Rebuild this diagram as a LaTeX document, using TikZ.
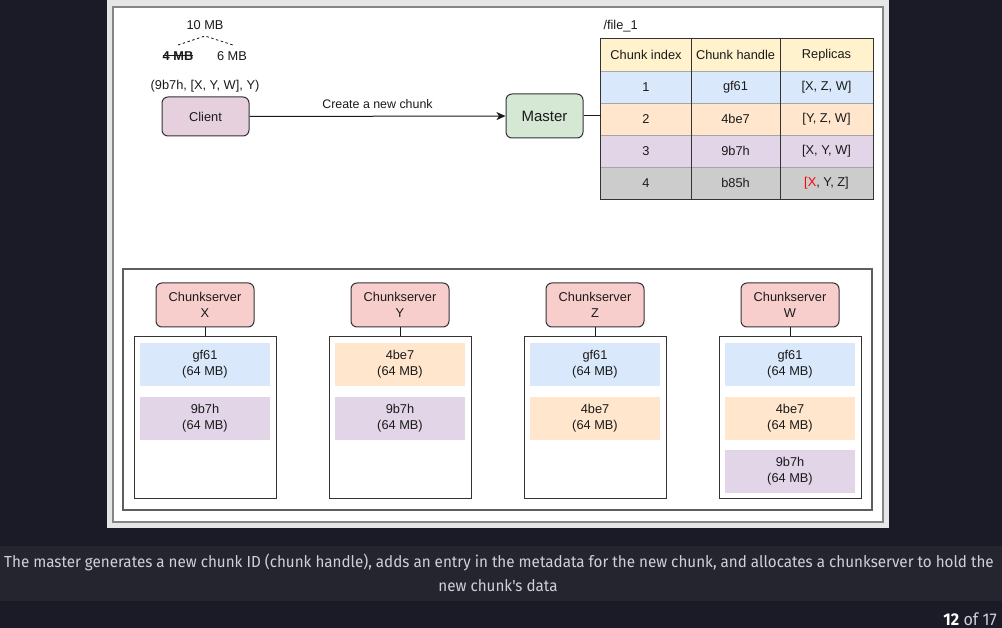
\documentclass[tikz,border=0pt]{standalone}
\usepackage{fontspec}
\setmainfont{Liberation Sans}
\newfontfamily\capfont[FakeStretch=0.95]{Fira Sans}
\usetikzlibrary{arrows.meta}
\definecolor{pagebg}{HTML}{1A1B26}
\definecolor{bandbg}{HTML}{24252F}
\definecolor{capfg}{HTML}{CFD0D8}
\definecolor{imgpad}{HTML}{E6E6E6}
\definecolor{framegray}{HTML}{858585}
\definecolor{contgray}{HTML}{5E5E5E}
\definecolor{ink}{HTML}{1A1A1A}
\definecolor{linec}{HTML}{333333}
\definecolor{cyellow}{HTML}{FFF2CC}
\definecolor{cblue}{HTML}{DAE8FC}
\definecolor{corange}{HTML}{FFE6CC}
\definecolor{cpurple}{HTML}{E1D5E7}
\definecolor{cgray}{HTML}{CCCCCC}
\definecolor{cclient}{HTML}{E6D0DE}
\definecolor{cmaster}{HTML}{D5E8D4}
\definecolor{cserver}{HTML}{F8CECC}
\definecolor{xred}{HTML}{FF0000}
\newcommand\blk[2]{\raisebox{-2.5pt}{\begin{tabular}{@{}c@{}}#1\\#2\end{tabular}}}
\tikzset{
  dfont/.style={font=\fontsize{12.8}{16}\selectfont, text=ink},
  rbox/.style={dfont, draw=linec, line width=1pt, rounded corners=6pt, align=center, inner sep=0pt},
  cell/.style={dfont, inner sep=0pt, minimum height=32pt},
  serverbox/.style={rbox, fill=cserver, minimum width=98pt, minimum height=44pt},
  storebox/.style={draw=linec, line width=1pt, minimum width=142pt, minimum height=161pt, inner sep=0pt},
  blockbox/.style={dfont, align=center, minimum width=130pt, minimum height=43pt, inner sep=0pt},
  conn/.style={draw=ink, line width=1pt},
  captext/.style={font=\capfont\fontsize{16}{19}\selectfont, text=capfg, inner sep=0pt}
}
\begin{document}
\begin{tikzpicture}[x=1pt,y=-1pt]
\useasboundingbox (0,0) rectangle (1002,628);
\fill[pagebg] (0,0) rectangle (1002,628);
\fill[bandbg] (0,546) rectangle (1002,601);
% diagram image
\fill[imgpad] (107,0) rectangle (889,528);
\filldraw[fill=white, draw=framegray, line width=1.2pt] (113,7) rectangle (883,522);
% top part
\node[dfont] (ten) at (205,25) {10 MB};
\node[dfont, font=\fontsize{12.8}{16}\selectfont\bfseries, inner sep=0pt] (four) at (178,56) {4 MB};
\draw[ink, line width=1pt] (four.west) -- (four.east);
\node[dfont] (six) at (232,56) {6 MB};
\coordinate (d1) at (178,45);
\coordinate (d2) at (205,36);
\coordinate (d3) at (233,45);
\draw[ink, line width=0.8pt, dash pattern=on 2.5pt off 2.5pt] (d1) -- (d2) -- (d3);
\node[dfont] (tuple) at (205,86) {(9b7h, [X, Y, W], Y)};
\node[rbox, fill=cclient, minimum width=87pt, minimum height=39pt] (client) at (205.5,116.5) {Client};
\node[rbox, fill=cmaster, minimum width=77pt, minimum height=44pt, font=\fontsize{15}{18}\selectfont] (master) at (544.5,116) {Master};
\draw[conn, -{Stealth[length=9pt, width=8pt, inset=2.5pt]}] (client) -- (master)
  node[midway, above=4pt, dfont, font=\fontsize{12.4}{15}\selectfont] (lbl) {Create a new chunk};
% table
\node[dfont, anchor=west] (fname) at (600,26) {/file\_1};
\foreach \r/\cy/\col/\a/\b/\c in {1/55/cyellow/Chunk index/Chunk handle/Replicas,
  2/87/cblue/1/gf61/{[X, Z, W]},
  3/119/corange/2/4be7/{[Y, Z, W]},
  4/151/cpurple/3/9b7h/{[X, Y, W]},
  5/183/cgray/4/b85h/{\textcolor{xred}{[}\textcolor{xred}{X}, Y, Z]}}{
  \node[cell, fill=\col, minimum width=90pt] (c\r a) at (646,\cy) {\raisebox{-1pt}{\a}};
  \node[cell, fill=\col, minimum width=89pt] (c\r b) at (735.5,\cy) {\raisebox{-1pt}{\b}};
  \node[cell, fill=\col, minimum width=93pt] (c\r c) at (826.5,\cy) {\raisebox{-1pt}{\c}};
}
\foreach \r in {2,3,4,5}{
  \draw[gray!70, line width=0.5pt] (c\r a.north west) -- (c\r c.north east);
}
\draw[linec, line width=1.2pt] (c1a.north east) -- (c5a.south east);
\draw[linec, line width=1.2pt] (c1b.north east) -- (c5b.south east);
\draw[linec, line width=1.2pt] (c1a.north west) rectangle (c5c.south east);
\draw[conn] (master.east) -- (master.east -| c3a.west);
% chunkservers container
\draw[contgray, line width=1.3pt] (123,269) rectangle (872,510);
\foreach \n/\x in {X/205, Y/400, Z/595, W/790}{
  \node[serverbox] (s\n) at (\x,305) {Chunkserver\\\n};
  \node[storebox] (st\n) at (\x,417.5) {};
  \draw[conn] (s\n.south) -- (st\n.north);
}
\node[blockbox, fill=cblue]   (bX1) at (205,364.5) {\blk{gf61}{(64 MB)}};
\node[blockbox, fill=cpurple] (bX2) at (205,418.5) {\blk{9b7h}{(64 MB)}};
\node[blockbox, fill=corange] (bY1) at (400,364.5) {\blk{4be7}{(64 MB)}};
\node[blockbox, fill=cpurple] (bY2) at (400,418.5) {\blk{9b7h}{(64 MB)}};
\node[blockbox, fill=cblue]   (bZ1) at (595,364.5) {\blk{gf61}{(64 MB)}};
\node[blockbox, fill=corange] (bZ2) at (595,418.5) {\blk{4be7}{(64 MB)}};
\node[blockbox, fill=cblue]   (bW1) at (790,364.5) {\blk{gf61}{(64 MB)}};
\node[blockbox, fill=corange] (bW2) at (790,418.5) {\blk{4be7}{(64 MB)}};
\node[blockbox, fill=cpurple] (bW3) at (790,471.5) {\blk{9b7h}{(64 MB)}};
% caption
\node[captext] (cap1) at (499,562) {The master generates a new chunk ID (chunk handle), adds an entry in the metadata for the new chunk, and allocates a chunkserver to hold the};
\node[captext] (cap2) at (498,586) {new chunk's data};
\node[captext, anchor=east, font=\capfont\fontsize{17}{20}\selectfont] (pg) at (997,619) {\textcolor{white}{\bfseries 12} of 17};
\end{tikzpicture}
\end{document}
